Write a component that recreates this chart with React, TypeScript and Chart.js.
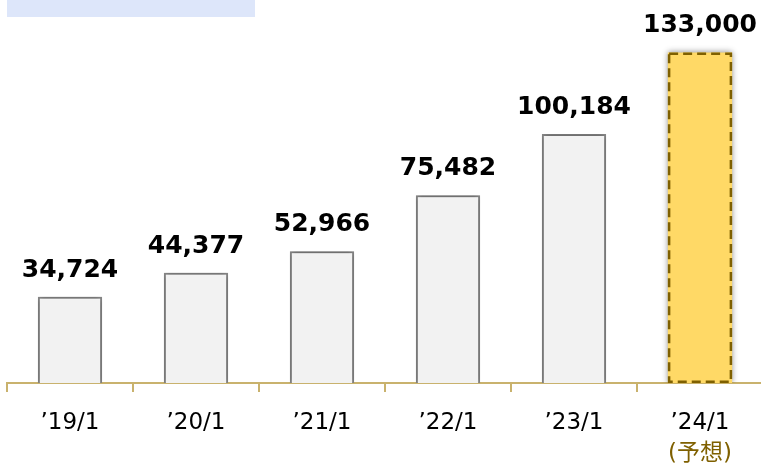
import React, { useEffect, useRef } from "react";
import { Chart, registerables } from "chart.js";

Chart.register(...registerables);

const categories = ["’19/1", "’20/1", "’21/1", "’22/1", "’23/1", "’24/1"];
const subLabels = ["", "", "", "", "", "(予想)"];
const values = [34724, 44377, 52966, 75482, 100184, 133000];
const valueLabels = ["34,724", "44,377", "52,966", "75,482", "100,184", "133,000"];

const FONT = "'DejaVu Sans', 'Noto Sans CJK JP', sans-serif";
const GOLD = "#C9B26D";

export default function App() {
  const ref = useRef<HTMLCanvasElement | null>(null);

  useEffect(() => {
    document.body.style.margin = "0";
    document.body.style.overflow = "hidden";
    const canvas = ref.current!;
    const lastIdx = values.length - 1;

    const shadowPlugin = {
      id: "shadow",
      beforeDatasetDraw(chart: any) {
        const ctx = chart.ctx;
        ctx.save();
        ctx.shadowColor = "rgba(0,0,0,0.45)";
        ctx.shadowBlur = 6;
        ctx.shadowOffsetX = 0;
        ctx.shadowOffsetY = 0;
      },
      afterDatasetDraw(chart: any) {
        chart.ctx.restore();
      },
    };

    const decorPlugin = {
      id: "decor",
      afterDatasetsDraw(chart: any) {
        const ctx = chart.ctx;
        const meta = chart.getDatasetMeta(0);
        const bar = meta.data[lastIdx];
        if (bar) {
          const w = bar.width;
          ctx.save();
          ctx.strokeStyle = "#7F6000";
          ctx.lineWidth = 2.5;
          ctx.setLineDash([9, 5]);
          ctx.strokeRect(bar.x - w / 2 + 1.25, bar.y + 1.25, w - 2.5, bar.base - bar.y - 2.5);
          ctx.restore();
        }
        ctx.save();
        ctx.font = `bold 25px ${FONT}`;
        ctx.fillStyle = "#000";
        ctx.textAlign = "center";
        ctx.textBaseline = "alphabetic";
        meta.data.forEach((el: any, i: number) => {
          ctx.fillText(valueLabels[i], el.x, el.y - 20);
        });
        ctx.restore();
        const xs = chart.scales.x;
        ctx.save();
        ctx.font = `23px ${FONT}`;
        ctx.textAlign = "center";
        ctx.textBaseline = "middle";
        categories.forEach((c: string, i: number) => {
          const x = xs.getPixelForValue(i);
          ctx.fillStyle = "#000";
          ctx.fillText(c, x, 423);
          if (subLabels[i]) {
            ctx.fillStyle = "#7F6000";
            ctx.fillText(subLabels[i], x, 454);
          }
        });
        ctx.restore();
      },
    };

    const chart = new Chart(canvas, {
      type: "bar",
      data: {
        labels: categories,
        datasets: [
          {
            data: values,
            backgroundColor: values.map((_, i) => (i === lastIdx ? "#FFD966" : "#F2F2F2")),
            borderColor: values.map((_, i) => (i === lastIdx ? "rgba(0,0,0,0)" : "#8C8C8C")),
            borderWidth: values.map((_, i) => (i === lastIdx ? 0 : 2)),
            barPercentage: 0.51,
            categoryPercentage: 1,
          },
        ],
      },
      options: {
        responsive: false,
        animation: false,
        devicePixelRatio: 1,
        layout: { padding: { left: 7, right: 7, top: 35, bottom: 78 } },
        plugins: { legend: { display: false }, tooltip: { enabled: false } },
        scales: {
          x: {
            offset: true,
            grid: {
              offset: true,
              drawOnChartArea: false,
              drawTicks: true,
              tickLength: 9,
              color: GOLD,
              lineWidth: 2,
            },
            border: { display: true, color: GOLD, width: 2 },
            ticks: { display: false },
          },
          y: {
            display: false,
            min: 0,
            max: 140000,
          },
        },
      },
      plugins: [shadowPlugin, decorPlugin],
    });
    return () => chart.destroy();
  }, []);

  return (
    <div style={{ position: "fixed", left: 0, top: 0, width: 761, height: 470, overflow: "hidden", background: "#fff" }}>
      <div style={{ position: "absolute", left: 7, top: 0, width: 248, height: 17, background: "#DDE6FA" }} />
      <canvas ref={ref} width={770} height={470} style={{ position: "absolute", left: 0, top: 0, width: 770, height: 470 }} />
    </div>
  );
}
